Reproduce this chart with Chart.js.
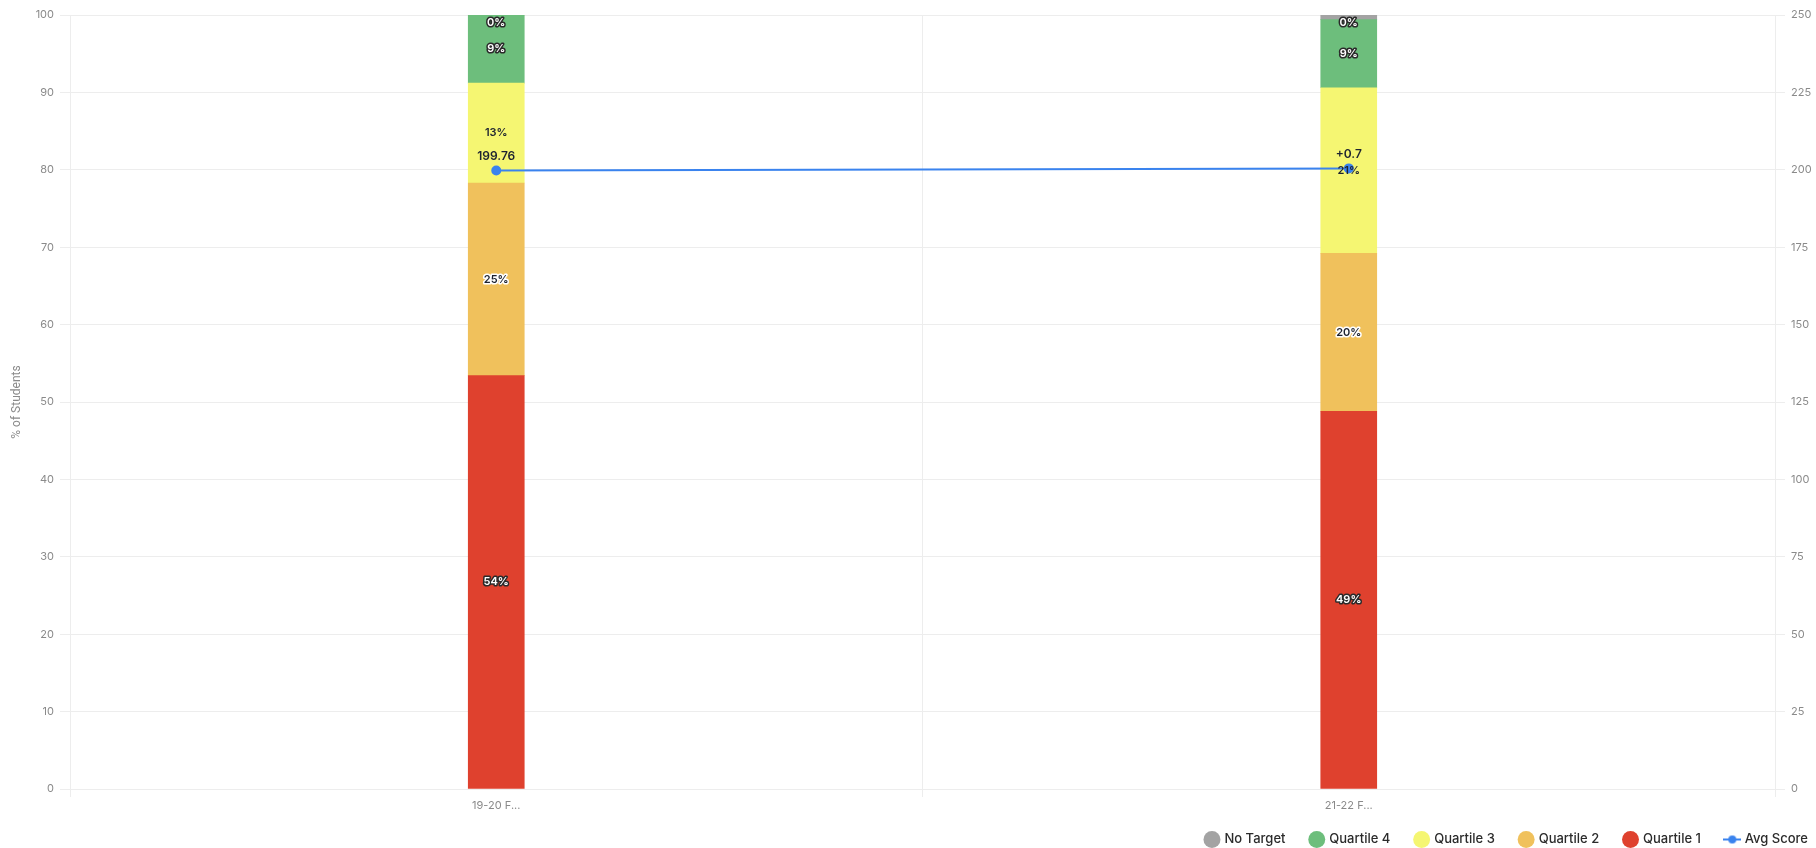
<!DOCTYPE html>
<html>
<head>
<meta charset="utf-8">
<script src="https://cdn.jsdelivr.net/npm/chart.js@4.4.1/dist/chart.umd.min.js"></script>
<style>
  html, body { margin: 0; padding: 0; background: #fff; }
  #wrap { width: 1816px; height: 848px; position: relative; }
</style>
</head>
<body>
<div id="wrap"><canvas id="chart"></canvas></div>
<script>
// datos (de abajo hacia arriba en la pila)
const categories = ["19-20 F...", "21-22 F..."];
const quartile1 = [53.4, 48.8];
const quartile2 = [24.9, 20.4];
const quartile3 = [12.9, 21.4];
const quartile4 = [8.8, 8.8];
const noTarget = [0, 0.6];
const pctLabels = {
  "No Target": ["0%", "0%"],
  "Quartile 4": ["9%", "9%"],
  "Quartile 3": ["13%", "21%"],
  "Quartile 2": ["25%", "20%"],
  "Quartile 1": ["54%", "49%"],
};
const avgScore = [199.76, 200.46];
const avgLabels = ["199.76", "+0.7"];
const legendOrder = ["No Target", "Quartile 4", "Quartile 3", "Quartile 2", "Quartile 1", "Avg Score"];

const FONT = "Inter, 'Open Sans', sans-serif";
const TICK = "#8a8a8a", GRID = "#ededed";
const COLORS = { nt: "#a3a3a3", q4: "#6dbe7c", q3: "#f5f672", q2: "#f0c15c", q1: "#df412e", avg: "#3a83ee" };

// icono de leyenda: línea con punto
function lineIcon(color) {
  const c = document.createElement("canvas");
  c.width = 18; c.height = 10;
  const g = c.getContext("2d");
  g.strokeStyle = color; g.lineWidth = 2;
  g.beginPath(); g.moveTo(0, 5); g.lineTo(18, 5); g.stroke();
  g.fillStyle = color; g.beginPath(); g.arc(9, 5, 4, 0, Math.PI * 2); g.fill();
  return c;
}

// etiquetas dentro de las barras y encima de los puntos
const valueLabels = {
  id: "valueLabels",
  afterDatasetsDraw(chart) {
    const ctx = chart.ctx;
    ctx.save();
    ctx.textAlign = "center";
    ctx.textBaseline = "middle";
    chart.data.datasets.forEach((ds, di) => {
      const meta = chart.getDatasetMeta(di);
      if (meta.hidden) return;
      meta.data.forEach((el, i) => {
        if (ds.type === "line") {
          ctx.font = "600 12px " + FONT;
          ctx.fillStyle = "#1d2330";
          ctx.fillText(avgLabels[i], el.x, el.y - 14);
          return;
        }
        const txt = pctLabels[ds.label][i];
        let y = (el.y + el.base) / 2;
        y = Math.max(y, chart.chartArea.top + 8);
        ctx.font = "600 11px " + FONT;
        if (ds.label === "Quartile 3") {
          ctx.fillStyle = "#1d2330";
          ctx.fillText(txt, el.x, y);
        } else {
          ctx.lineWidth = 3;
          ctx.lineJoin = "round";
          ctx.strokeStyle = ds.label === "Quartile 2" ? "#ffffff" : "#2a2a2a";
          ctx.fillStyle = ds.label === "Quartile 2" ? "#1d2330" : "#ffffff";
          ctx.strokeText(txt, el.x, y);
          ctx.fillText(txt, el.x, y);
        }
      });
    });
    ctx.restore();
  },
};

const barBase = { type: "bar", yAxisID: "y", barThickness: 56, borderWidth: 0, order: 2 };

new Chart(document.getElementById("chart").getContext("2d"), {
  type: "bar",
  data: {
    labels: categories,
    datasets: [
      { ...barBase, label: "Quartile 1", data: quartile1, backgroundColor: COLORS.q1 },
      { ...barBase, label: "Quartile 2", data: quartile2, backgroundColor: COLORS.q2 },
      { ...barBase, label: "Quartile 3", data: quartile3, backgroundColor: COLORS.q3 },
      { ...barBase, label: "Quartile 4", data: quartile4, backgroundColor: COLORS.q4 },
      { ...barBase, label: "No Target", data: noTarget, backgroundColor: COLORS.nt },
      {
        type: "line", label: "Avg Score", data: avgScore, yAxisID: "y1", order: 1,
        borderColor: COLORS.avg, backgroundColor: COLORS.avg, borderWidth: 2,
        pointRadius: 4, pointBackgroundColor: COLORS.avg, tension: 0,
      },
    ],
  },
  options: {
    responsive: true, maintainAspectRatio: false, animation: false,
    layout: { padding: { top: 15, right: 0, bottom: -8, left: 0 } },
    plugins: {
      legend: {
        position: "bottom", align: "end",
        labels: {
          usePointStyle: true, boxWidth: 12, boxHeight: 12, padding: 8,
          color: "#2b2b2b", font: { family: FONT, size: 13, weight: "500" },
          generateLabels(chart) {
            const items = Chart.defaults.plugins.legend.labels.generateLabels(chart);
            items.forEach((it) => {
              const ds = chart.data.datasets[it.datasetIndex];
              it.pointStyle = ds.type === "line" ? lineIcon(COLORS.avg) : "circle";
              if (ds.type !== "line") it.text = it.text + "     ";
            });
            return items.sort((a, b) => legendOrder.indexOf(a.text.trim()) - legendOrder.indexOf(b.text.trim()));
          },
        },
      },
      tooltip: { enabled: false },
    },
    scales: {
      x: {
        stacked: true,
        grid: { color: GRID, offset: true, tickLength: 8 },
        border: { color: GRID },
        ticks: { color: TICK, font: { family: FONT, size: 11 }, padding: 2 },
        afterFit: (s) => { s.height = 36; },
      },
      y: {
        stacked: true, min: 0, max: 100, position: "left",
        grid: { color: GRID, tickLength: 10 },
        border: { color: GRID },
        ticks: { stepSize: 10, color: TICK, font: { family: FONT, size: 11 }, padding: 6 },
        title: {
          display: true, text: "% of Students", color: TICK,
          font: { family: "Roboto", size: 12 }, padding: { top: 10, bottom: 0 },
        },
        afterFit: (s) => { s.width = 70; },
      },
      y1: {
        min: 0, max: 250, position: "right",
        grid: { drawOnChartArea: false, color: GRID, tickLength: 10 },
        border: { color: GRID },
        ticks: { stepSize: 25, color: TICK, font: { family: FONT, size: 11 }, padding: 6 },
        afterFit: (s) => { s.width = 41; },
      },
    },
  },
  plugins: [valueLabels],
});
</script>
</body>
</html>
